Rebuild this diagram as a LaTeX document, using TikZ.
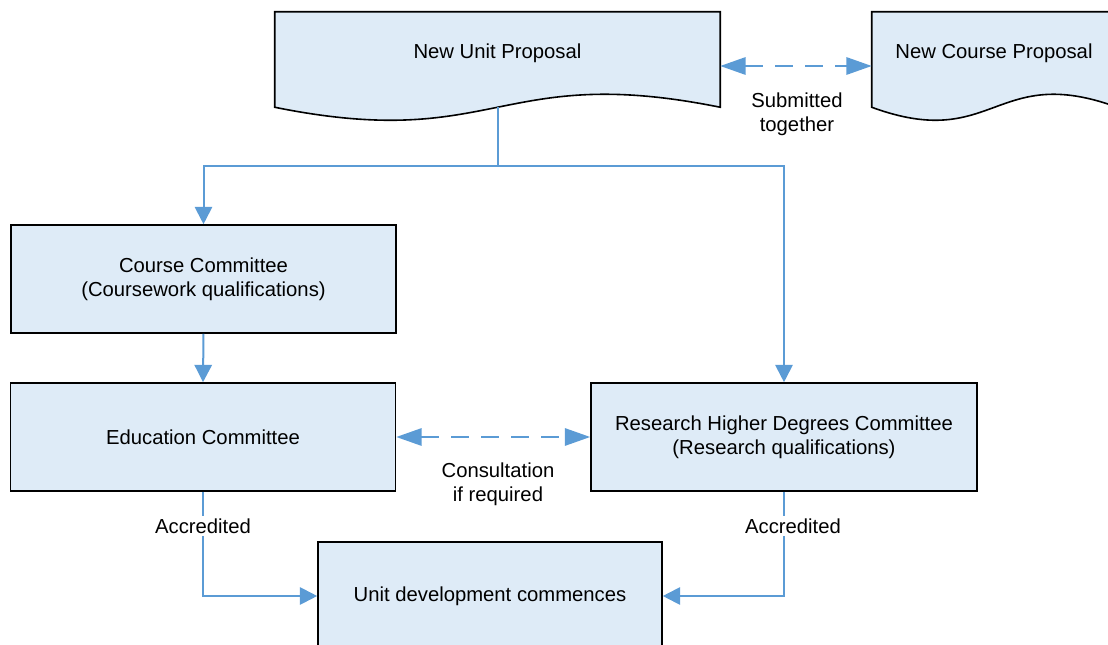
\documentclass[tikz,border=0pt]{standalone}
\usepackage{fontspec}
\setmainfont{Liberation Sans}
\usetikzlibrary{arrows.meta,calc}
\definecolor{boxfill}{RGB}{222,235,247}
\definecolor{flowblue}{RGB}{91,155,213}
\begin{document}
\begin{tikzpicture}[x=0.75pt,y=-0.75pt,
  font=\fontsize{15.2}{18}\selectfont,
  box/.style={draw=black, line width=1.2pt, fill=boxfill, align=center, inner sep=0pt},
  docframe/.style={draw=none, inner sep=0pt},
  doc/.style={draw=black, line width=1.2pt, fill=boxfill},
  flow/.style={draw=flowblue, line width=1.5pt, -{Triangle[length=13pt,width=13pt]}},
  link/.style={draw=flowblue, line width=1.5pt, dash pattern=on 13.5pt off 9pt,
    {Triangle[length=19pt,width=13pt]}-{Triangle[length=19pt,width=13pt]}},
  plain/.style={draw=flowblue, line width=1.5pt},
  note/.style={align=center, inner sep=1pt},
  tag/.style={fill=white, inner sep=2pt}
]
\clip (0,0) rectangle (1108,645);

% document-shaped proposals
\node[docframe, minimum width=333.75pt, minimum height=71.25pt] (nup) at (497.5,59.5) {};
\node[docframe, minimum width=183.75pt, minimum height=71.25pt] (ncp) at (994.5,59.5) {};
\foreach \d in {nup,ncp}{
  \path[doc] (\d.north west) -- (\d.north east) -- (\d.south east)
    .. controls ($(\d.south)+(0,-45)$) and ($(\d.south)+(0,45)$) .. (\d.south west) -- cycle;
}
\node[note] (nupText) at (497.5,53) {New Unit Proposal};
\node[note] (ncpText) at (994,53) {New Course Proposal};

% committees
\node[box, minimum width=288.75pt, minimum height=81pt] (cc) at (203.5,279) {Course Committee\\(Coursework qualifications)};
\node[box, minimum width=288.75pt, minimum height=81pt] (ec) at (203,437) {Education Committee};
\node[box, minimum width=289.5pt, minimum height=81pt] (rhdc) at (784,437) {Research Higher Degrees Committee\\(Research qualifications)};
\node[box, minimum width=258pt, minimum height=81pt] (ud) at (490,596) {Unit development commences};

% connectors
\coordinate (sub) at (0,66);
\coordinate (split) at (497.5,166);
\draw[link] (nup.east |- sub) -- (ncp.west |- sub);
\node[note] (subText) at (797,114) {Submitted\\together};

\draw[plain] (nup.south) -- (split);
\draw[flow] (split) -| (cc.north);
\draw[flow] (split) -| (rhdc.north);
\draw[flow] (cc.south) -- (ec.north);

\draw[link] (ec.east) -- (rhdc.west);
\node[note] (consText) at (498,484) {Consultation\\if required};

\draw[flow] (ec.south) |- (ud.west);
\draw[flow] (rhdc.south) |- (ud.east);
\node[tag] (accL) at (203,526) {Accredited};
\node[tag] (accR) at (793,526) {Accredited};
\end{tikzpicture}
\end{document}
